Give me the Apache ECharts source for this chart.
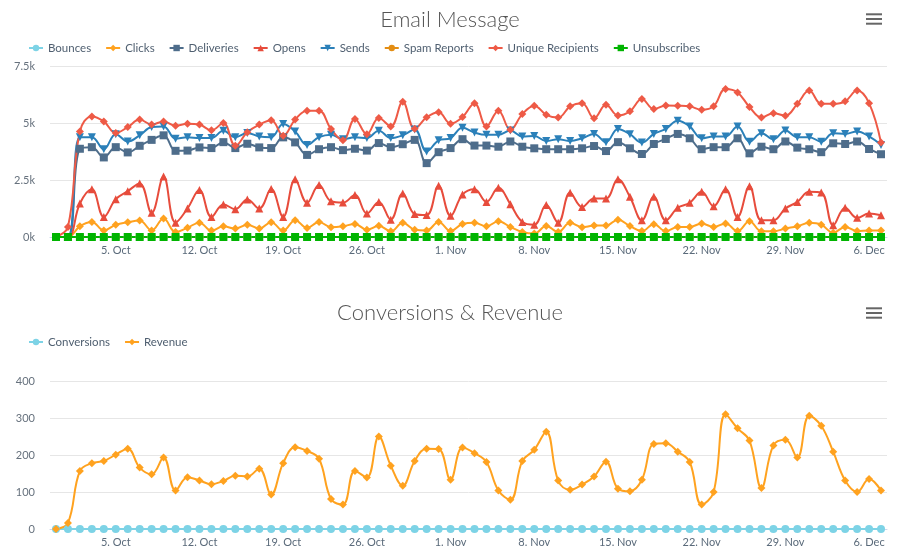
<!DOCTYPE html>
<html>
<head>
<meta charset="utf-8">
<script src="https://cdn.jsdelivr.net/npm/echarts@6/dist/echarts.min.js"></script>
<style>
html,body{margin:0;padding:0;background:#fff;}
#chart{width:900px;height:560px;}
</style>
</head>
<body>
<div id="chart"></div>
<script>
const categories = ['30 Sep','1 Oct','2 Oct','3 Oct','4 Oct','5 Oct','6 Oct','7 Oct','8 Oct','9 Oct',
  '10 Oct','11 Oct','12 Oct','13 Oct','14 Oct','15 Oct','16 Oct','17 Oct','18 Oct','19 Oct',
  '20 Oct','21 Oct','22 Oct','23 Oct','24 Oct','25 Oct','26 Oct','27 Oct','28 Oct','29 Oct',
  '30 Oct','31 Oct','1 Nov','2 Nov','3 Nov','4 Nov','5 Nov','6 Nov','7 Nov','8 Nov',
  '9 Nov','10 Nov','11 Nov','12 Nov','13 Nov','14 Nov','15 Nov','16 Nov','17 Nov','18 Nov',
  '19 Nov','20 Nov','21 Nov','22 Nov','23 Nov','24 Nov','25 Nov','26 Nov','27 Nov','28 Nov',
  '29 Nov','30 Nov','1 Dec','2 Dec','3 Dec','4 Dec','5 Dec','6 Dec','7 Dec','8 Dec'];

const tickLabels = ['5. Oct','12. Oct','19. Oct','26. Oct','1. Nov','8. Nov','15. Nov','22. Nov','29. Nov','6. Dec'];

const bounces = [0,0,0,0,0,0,0,0,0,0, 0,0,0,0,0,0,0,0,0,0, 0,0,0,0,0,0,0,0,0,0, 0,0,0,0,0,0,0,0,0,0, 0,0,0,0,0,0,0,0,0,0, 0,0,0,0,0,0,0,0,0,0, 0,0,0,0,0,0,0,0,0,0];
const clicks = [0,0,470,660,290,540,650,720,290,810,
  220,410,630,280,470,370,540,370,650,280,
  740,400,660,430,470,570,320,490,250,620,
  320,290,660,260,570,620,470,690,440,220,
  150,480,220,620,430,500,500,760,480,260,
  560,260,440,440,590,440,590,260,690,250,
  250,370,470,620,540,190,440,260,290,290];
const deliveries = [0,0,3870,3940,3490,3940,3710,4000,4260,4460,
  3780,3790,3930,3900,4160,3900,4090,3930,3900,4370,
  4150,3600,3850,3940,3810,3870,3790,4120,3940,4070,
  4260,3240,3720,3900,4290,4010,4010,3960,4190,3960,
  3890,3850,3850,3850,3890,3990,3770,4160,3890,3640,
  4080,4300,4520,4330,3850,3940,3940,4330,3670,3960,
  3850,4190,3920,3850,3720,4110,4080,4190,3860,3630];
const opens = [0,0,1470,2090,880,1660,2010,2350,1060,2650,
  630,1250,2060,880,1430,1220,1650,1250,2100,880,
  2530,1500,2280,1570,1510,1840,1030,1540,760,1910,
  1010,960,2250,930,1860,2090,1540,2160,1440,660,
  540,1400,630,1940,1320,1690,1690,2530,1760,730,
  1760,730,1280,1500,1980,1350,2090,880,2230,730,
  730,1250,1540,1980,1950,510,1280,840,1030,950];
const sends = [0,0,4380,4380,3850,4510,4190,4460,4820,4850,
  4310,4370,4340,4340,4660,4380,4560,4410,4380,4960,
  4630,4040,4380,4490,4290,4370,4340,4660,4340,4460,
  4710,3750,4240,4340,4790,4580,4480,4480,4670,4410,
  4430,4210,4290,4210,4330,4520,4160,4740,4510,4140,
  4520,4740,5100,4850,4330,4410,4410,4850,4180,4550,
  4290,4670,4380,4380,4180,4550,4520,4630,4410,4040];
const spamReports = [0,0,0,0,0,0,0,0,0,0, 0,0,0,0,0,0,0,0,0,0, 0,0,0,0,0,0,0,0,0,0, 0,0,0,0,0,0,0,0,0,0, 0,0,0,0,0,0,0,0,0,0, 0,0,0,0,0,0,0,0,0,0, 0,0,0,0,0,0,0,0,0,0];
const uniqueRecipients = [0,440,4630,5290,5070,4560,4820,5150,4930,5070,
  4880,4970,4930,4680,5000,4000,4590,4930,5120,4440,
  5150,5540,5540,4740,4240,5180,4510,5220,4850,5930,
  4750,5250,5470,4970,5260,5870,4850,5540,4700,5390,
  5760,5360,5240,5730,5870,5210,5800,5330,5510,6050,
  5610,5770,5760,5730,5580,5730,6490,6340,5700,5240,
  5430,5320,5840,6420,5840,5840,5950,6420,5870,4140];
const unsubscribes = [0,0,0,0,0,0,0,0,0,0, 0,0,0,0,0,0,0,0,0,0, 0,0,0,0,0,0,0,0,0,0, 0,0,0,0,0,0,0,0,0,0, 0,0,0,0,0,0,0,0,0,0, 0,0,0,0,0,0,0,0,0,0, 0,0,0,0,0,0,0,0,0,0];

const conversions = [0,0,0,0,0,0,0,0,0,0, 0,0,0,0,0,0,0,0,0,0, 0,0,0,0,0,0,0,0,0,0, 0,0,0,0,0,0,0,0,0,0, 0,0,0,0,0,0,0,0,0,0, 0,0,0,0,0,0,0,0,0,0, 0,0,0,0,0,0,0,0,0,0];
const revenue = [0,16,157,178,184,201,217,166,148,193,
  104,140,131,121,130,144,142,163,93,178,
  221,211,190,81,66,157,139,250,171,117,
  184,217,216,133,220,205,181,104,79,184,
  214,263,131,106,120,142,182,109,102,133,
  230,232,209,181,66,100,310,272,239,111,
  226,241,193,306,279,209,131,100,135,104];

const FONT = 'Lato, "Open Sans", sans-serif';
const firstTick = 5, tickStep = 7;
const isTick = (idx) => idx >= firstTick && (idx - firstTick) % tickStep === 0;

function xAxisFor(gridIndex) {
  return {
    type: 'category', gridIndex, data: categories, boundaryGap: true,
    axisLine: { lineStyle: { color: '#ccd6eb', width: 1 } },
    axisTick: { interval: isTick, alignWithLabel: true, length: 5, lineStyle: { color: '#ccd6eb' } },
    axisLabel: {
      interval: isTick, margin: 8, color: '#5a6a7a', fontSize: 11, fontFamily: FONT,
      formatter: (v, idx) => tickLabels[(idx - firstTick) / tickStep]
    },
    splitLine: { show: false }
  };
}
function yAxisFor(gridIndex, max, interval, fmt) {
  return {
    type: 'value', gridIndex, min: 0, max, interval,
    axisLine: { show: false }, axisTick: { show: false },
    axisLabel: { color: '#66717d', fontSize: 11, fontFamily: FONT, margin: 15, formatter: fmt },
    splitLine: { lineStyle: { color: '#e6e6e6', width: 1 } }
  };
}
function lineSeries(name, data, color, symbol, idx, extra) {
  return Object.assign({
    name, type: 'line', data, xAxisIndex: idx, yAxisIndex: idx,
    smooth: 0.4, symbol, symbolSize: 8, showSymbol: true, showAllSymbol: true,
    lineStyle: { width: 2, color }, itemStyle: { color },
    emphasis: { disabled: true }
  }, extra || {});
}
function hamburger(top) {
  return [0, 1, 2].map(k => ({
    type: 'rect', shape: { x: 866, y: top + k * 4.7, width: 16, height: 2 },
    style: { fill: '#666' }
  }));
}

const chart = echarts.init(document.getElementById('chart'), null, { renderer: 'canvas' });
chart.setOption({
  animation: false,
  backgroundColor: '#fff',
  textStyle: { fontFamily: FONT },
  title: [
    { text: 'Email Message', left: 'center', top: 4, textStyle: { fontSize: 22, fontWeight: 300, color: '#555555', fontFamily: FONT } },
    { text: 'Conversions & Revenue', left: 'center', top: 297, textStyle: { fontSize: 22, fontWeight: 300, color: '#555555', fontFamily: FONT } }
  ],
  legend: [
    { left: 23, top: 37, itemWidth: 14, itemHeight: 8, itemGap: 14,
      textStyle: { color: '#4f5f70', fontSize: 11.5, fontFamily: FONT },
      data: ['Bounces','Clicks','Deliveries','Opens','Sends','Spam Reports','Unique Recipients','Unsubscribes'] },
    { left: 23, top: 331, itemWidth: 14, itemHeight: 8, itemGap: 14,
      textStyle: { color: '#4f5f70', fontSize: 11.5, fontFamily: FONT },
      data: ['Conversions','Revenue'] }
  ],
  grid: [
    { left: 50, right: 13, top: 66, height: 171 },
    { left: 50, right: 13, top: 381, height: 148 }
  ],
  xAxis: [xAxisFor(0), xAxisFor(1)],
  yAxis: [
    yAxisFor(0, 7500, 2500, v => (v / 1000) + 'k'),
    yAxisFor(1, 400, 100, v => String(v))
  ],
  graphic: hamburger(13.3).concat(hamburger(307.3)),
  series: [
    lineSeries('Bounces', bounces, '#7dd3e6', 'circle', 0),
    lineSeries('Clicks', clicks, '#ffa21f', 'diamond', 0),
    lineSeries('Deliveries', deliveries, '#4e6d8b', 'rect', 0),
    lineSeries('Opens', opens, '#e74c3c', 'triangle', 0),
    lineSeries('Sends', sends, '#2b80b9', 'triangle', 0, { symbolRotate: 180 }),
    lineSeries('Spam Reports', spamReports, '#e38d13', 'circle', 0),
    lineSeries('Unique Recipients', uniqueRecipients, '#ee5a46', 'diamond', 0),
    lineSeries('Unsubscribes', unsubscribes, '#00b400', 'rect', 0),
    lineSeries('Conversions', conversions, '#7dd3e6', 'circle', 1),
    lineSeries('Revenue', revenue, '#ffa21f', 'diamond', 1)
  ]
});
</script>
</body>
</html>
